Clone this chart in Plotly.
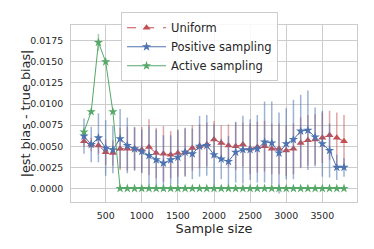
import plotly.graph_objects as go

sample_size = [200, 300, 400, 500, 600, 700, 800, 900, 1000, 1100, 1200, 1300, 1400,
               1500, 1600, 1700, 1800, 1900, 2000, 2100, 2200, 2300, 2400, 2500, 2600,
               2700, 2800, 2900, 3000, 3100, 3200, 3300, 3400, 3500, 3600, 3700, 3800]

uniform = [0.0056, 0.0052, 0.0051, 0.0043, 0.0042, 0.0047, 0.0047, 0.0047, 0.0046, 0.0049,
           0.0042, 0.0041, 0.0040, 0.0042, 0.0043, 0.0048, 0.0050, 0.0052, 0.0058, 0.0054,
           0.0051, 0.0050, 0.0052, 0.0047, 0.0049, 0.0050, 0.0047, 0.0047, 0.0045, 0.0047,
           0.0054, 0.0057, 0.0058, 0.0060, 0.0063, 0.0060, 0.0056]
uniform_err = [0.0006, 0.0008, 0.0010, 0.0015, 0.0015, 0.0025, 0.0026, 0.0025, 0.0027, 0.0033,
               0.0030, 0.0033, 0.0028, 0.0028, 0.0028, 0.0027, 0.0026, 0.0026, 0.0022, 0.0021,
               0.0025, 0.0028, 0.0026, 0.0030, 0.0030, 0.0030, 0.0030, 0.0030, 0.0030, 0.0030,
               0.0030, 0.0030, 0.0030, 0.0030, 0.0029, 0.0030, 0.0031]

positive = [0.0062, 0.0052, 0.0060, 0.0048, 0.0046, 0.0059, 0.0051, 0.0047, 0.0044, 0.0039,
            0.0034, 0.0030, 0.0034, 0.0037, 0.0043, 0.0041, 0.0050, 0.0051, 0.0040, 0.0035,
            0.0032, 0.0043, 0.0046, 0.0046, 0.0047, 0.0055, 0.0054, 0.0042, 0.0053, 0.0058,
            0.0068, 0.0069, 0.0061, 0.0053, 0.0045, 0.0025, 0.0025]
positive_err = [0.0021, 0.0021, 0.0029, 0.0033, 0.0028, 0.0035, 0.0033, 0.0026, 0.0026, 0.0035,
                0.0036, 0.0033, 0.0029, 0.0032, 0.0029, 0.0030, 0.0036, 0.0036, 0.0036, 0.0024,
                0.0030, 0.0036, 0.0040, 0.0036, 0.0040, 0.0048, 0.0049, 0.0048, 0.0042, 0.0047,
                0.0043, 0.0047, 0.0035, 0.0039, 0.0032, 0.0015, 0.0011]

active = [0.0067, 0.0091, 0.0173, 0.0150, 0.0091, 0.0, 0.0, 0.0, 0.0, 0.0,
          0.0, 0.0, 0.0, 0.0, 0.0, 0.0, 0.0, 0.0, 0.0, 0.0,
          0.0, 0.0, 0.0, 0.0, 0.0, 0.0, 0.0, 0.0, 0.0, 0.0,
          0.0, 0.0, 0.0, 0.0, 0.0, 0.0, 0.0]
active_err = [0.0003, 0.0002, 0.0010, 0.0002, 0.0002, 0.0, 0.0, 0.0, 0.0, 0.0,
              0.0, 0.0, 0.0, 0.0, 0.0, 0.0, 0.0, 0.0, 0.0, 0.0,
              0.0, 0.0, 0.0, 0.0, 0.0, 0.0, 0.0, 0.0, 0.0, 0.0,
              0.0, 0.0, 0.0, 0.0, 0.0, 0.0, 0.0]

x_ticks = [500, 1000, 1500, 2000, 2500, 3000, 3500]
y_ticks = [0.0, 0.0025, 0.005, 0.0075, 0.01, 0.0125, 0.015, 0.0175]

RED = "#C44E52"
BLUE = "#4C72B0"
GREEN = "#55A868"

fig = go.Figure()
fig.add_trace(go.Scatter(
    x=sample_size, y=uniform, name="Uniform", mode="lines+markers",
    line=dict(color=RED, width=1, dash="dash"),
    marker=dict(symbol="triangle-up", size=7, color=RED),
    error_y=dict(type="data", array=uniform_err, color="rgba(196,78,82,0.5)",
                 thickness=1.5, width=0),
))
fig.add_trace(go.Scatter(
    x=sample_size, y=positive, name="Positive sampling", mode="lines+markers",
    line=dict(color=BLUE, width=1),
    marker=dict(symbol="star", size=7, color=BLUE),
    error_y=dict(type="data", array=positive_err, color="rgba(76,114,176,0.55)",
                 thickness=1.5, width=0),
))
fig.add_trace(go.Scatter(
    x=sample_size, y=active, name="Active sampling", mode="lines+markers",
    line=dict(color=GREEN, width=1),
    marker=dict(symbol="star", size=7, color=GREEN),
    error_y=dict(type="data", array=active_err, color="rgba(85,168,104,0.55)",
                 thickness=1.5, width=0),
))

# page body has an 8px default margin, so the figure is drawn 8px in from the top-left
fig.update_layout(
    width=366, height=241,
    margin=dict(l=63, r=17, t=17, b=47, autoexpand=False),
    paper_bgcolor="white", plot_bgcolor="white",
    font=dict(family="DejaVu Sans", color="#262626"),
    showlegend=True,
    legend=dict(x=0.175, y=1.072, xanchor="left", yanchor="top",
                bgcolor="rgba(255,255,255,0.85)", bordercolor="#cccccc", borderwidth=1,
                font=dict(size=11.5, color="#262626"), tracegroupgap=0,
                itemwidth=39),
    xaxis=dict(range=[20, 3980], tickvals=x_ticks, ticks="",
               showgrid=True, gridcolor="#cccccc", gridwidth=1, zeroline=False,
               showline=True, linecolor="#cccccc", mirror=True,
               tickfont=dict(size=9.4), ticklabelstandoff=5,
               title=dict(text="Sample size", font=dict(size=12.8), standoff=2)),
    yaxis=dict(range=[-0.0016, 0.01936], tickvals=y_ticks, tickformat=".4f", ticks="",
               showgrid=True, gridcolor="#cccccc", gridwidth=1, zeroline=False,
               showline=True, linecolor="#cccccc", mirror=True,
               tickfont=dict(size=9.4), ticklabelstandoff=5),
    annotations=[dict(text="|est bias - true bias|", xref="paper", yref="paper",
                      x=-0.158, y=0.5, xanchor="center", yanchor="middle",
                      textangle=-90, showarrow=False,
                      font=dict(size=12.8, color="#262626"))],
)

fig.write_html("out.html")
